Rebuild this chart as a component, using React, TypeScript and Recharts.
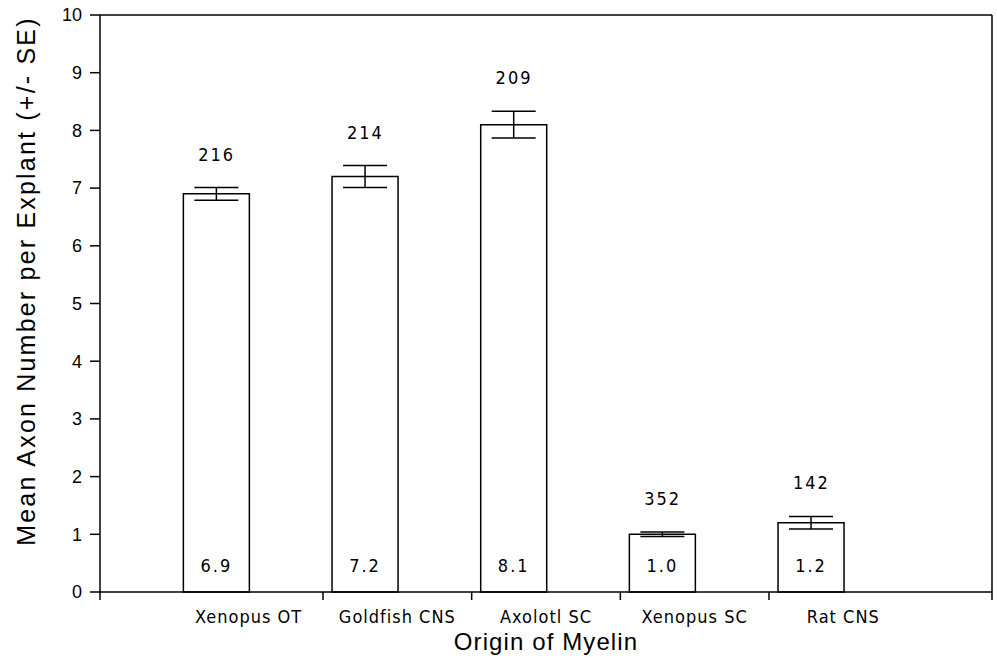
import React from 'react';
import {
  ComposedChart,
  Bar,
  Line,
  XAxis,
  YAxis,
  ErrorBar,
  LabelList,
  ReferenceLine,
} from 'recharts';

// Origin of myelin tested in each explant series
const categories = ['Xenopus OT', 'Goldfish CNS', 'Axolotl SC', 'Xenopus SC', 'Rat CNS'];
// Mean axon number per explant
const meanAxons = [6.9, 7.2, 8.1, 1.0, 1.2];
// Standard error of each mean
const standardErrors = [0.11, 0.19, 0.23, 0.04, 0.11];
// Number of explants in each series
const explantCounts = [216, 214, 209, 352, 142];
// Value axis ticks
const yTicks = [0, 1, 2, 3, 4, 5, 6, 7, 8, 9, 10];

// Bars sit a little to the left of their category label
const BAR_SHIFT = 0.215;

const rows = categories.map((name, i) => ({
  name,
  pos: i + 1 - BAR_SHIFT,
  mean: meanAxons[i],
  se: standardErrors[i],
  top: meanAxons[i] + standardErrors[i],
  n: explantCounts[i],
}));

const labelTicks = categories.map((_, i) => i + 1);
const dividerTicks = [0, 1.5, 2.5, 3.5, 4.5, categories.length + 1];
const xTicks = [...dividerTicks, ...labelTicks].sort((a, b) => a - b);

const STROKE_FONT = "'DejaVu Sans Condensed', 'DejaVu Sans', sans-serif";
const SANS = "'Liberation Sans', Arial, sans-serif";

const CategoryTick = (props: any) => {
  const { x, y, payload } = props;
  const v = payload.value;
  if (Number.isInteger(v) && v >= 1 && v <= categories.length) {
    return (
      <text
        x={x}
        y={y + 31}
        textAnchor="middle"
        fontFamily={STROKE_FONT}
        fontSize={18}
        letterSpacing={1}
        fill="#000"
      >
        {categories[v - 1]}
      </text>
    );
  }
  return <line x1={x} x2={x} y1={y} y2={y + 8} stroke="#000" strokeWidth={1.5} />;
};

const YTitle = (props: any) => {
  const { viewBox } = props;
  const cx = viewBox.x + 26;
  const cy = 281;
  return (
    <text
      x={cx}
      y={cy}
      transform={`rotate(-90, ${cx}, ${cy})`}
      textAnchor="middle"
      dominantBaseline="central"
      style={{ fontFamily: SANS, fontSize: 25, letterSpacing: 2.2 }}
      fill="#000"
    >
      Mean Axon Number per Explant (+/- SE)
    </text>
  );
};

const XTitle = (props: any) => {
  const { viewBox } = props;
  const cx = viewBox.x + viewBox.width / 2;
  const cy = 650;
  return (
    <text
      x={cx}
      y={cy}
      textAnchor="middle"
      style={{ fontFamily: SANS, fontSize: 24, letterSpacing: 1.1 }}
      fill="#000"
    >
      Origin of Myelin
    </text>
  );
};

const countStyle = { fontFamily: STROKE_FONT, fontSize: 18, letterSpacing: 2, fill: '#000' };

export default function App() {
  return (
    <div style={{ position: 'absolute', left: 0, top: 0, width: 997, height: 663, background: '#fff' }}>
      <ComposedChart
        width={997}
        height={663}
        data={rows}
        margin={{ top: 15, right: 5, left: 0, bottom: 0 }}
      >
        <XAxis
          type="number"
          dataKey="pos"
          domain={[0, categories.length + 1]}
          ticks={xTicks}
          interval={0}
          height={71}
          tickSize={0}
          tickMargin={0}
          tickLine={false}
          axisLine={{ stroke: '#000', strokeWidth: 1.5 }}
          tick={<CategoryTick />}
          label={<XTitle />}
        />
        <YAxis
          type="number"
          domain={[0, 10]}
          ticks={yTicks}
          interval={0}
          width={100}
          tickSize={10}
          tickMargin={8}
          tickLine={{ stroke: '#000', strokeWidth: 1.5 }}
          axisLine={{ stroke: '#000', strokeWidth: 1.5 }}
          tick={{ fontFamily: SANS, fontSize: 18, fill: '#000' }}
          label={<YTitle />}
        />
        <ReferenceLine y={10} stroke="#000" strokeWidth={1.5} />
        <ReferenceLine x={categories.length + 1} stroke="#000" strokeWidth={1.5} />
        <Bar
          dataKey="mean"
          barSize={66}
          fill="#fff"
          stroke="#000"
          strokeWidth={1.5}
          isAnimationActive={false}
        >
          <ErrorBar dataKey="se" width={22} stroke="#000" strokeWidth={1.5} direction="y" />
          <LabelList
            dataKey="mean"
            position="insideBottom"
            offset={20}
            formatter={(v: any) => Number(v).toFixed(1)}
            style={countStyle}
          />
        </Bar>
        <Line
          dataKey="top"
          stroke="none"
          dot={false}
          activeDot={false}
          isAnimationActive={false}
        >
          <LabelList dataKey="n" position="top" offset={27} style={countStyle} />
        </Line>
      </ComposedChart>
    </div>
  );
}
